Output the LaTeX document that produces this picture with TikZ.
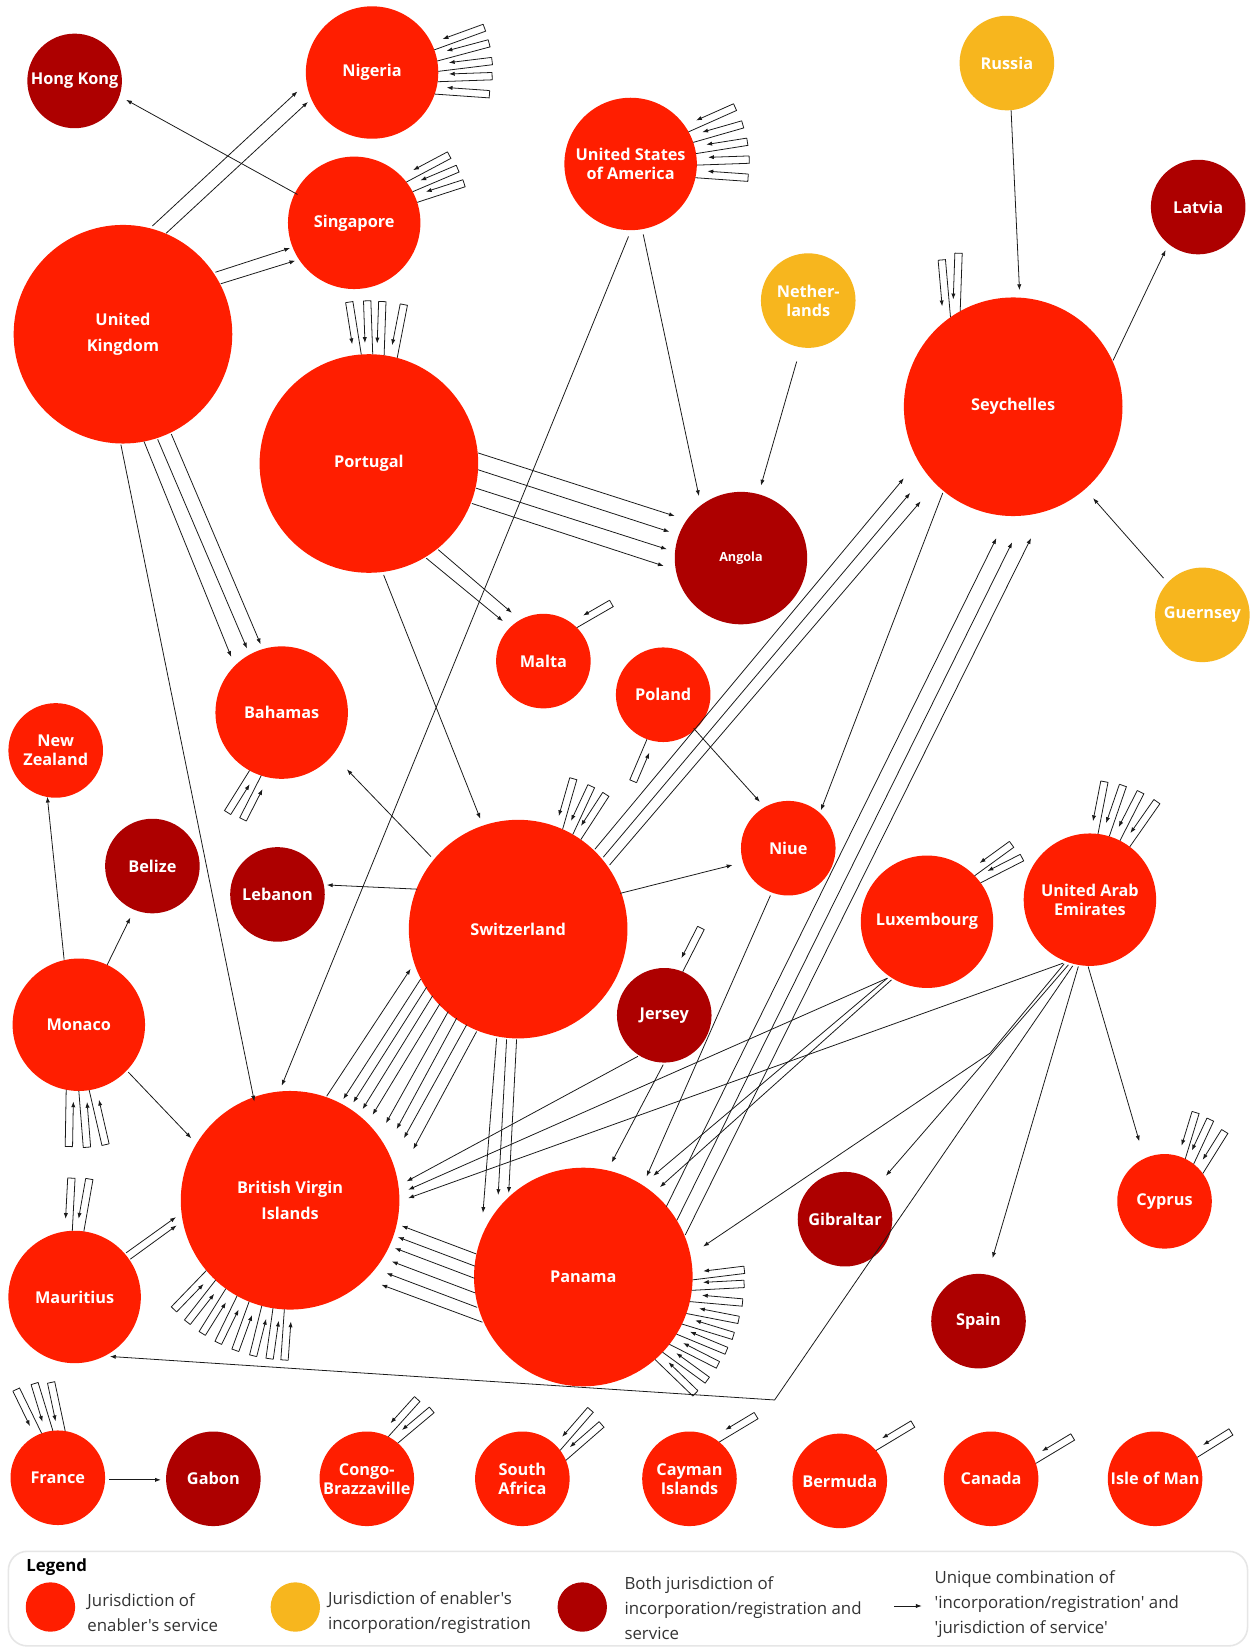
\documentclass[tikz,border=0pt]{standalone}
\usepackage{fontspec}
\setmainfont{Open Sans}
\newfontfamily\plainf{Open Sans}
\usetikzlibrary{arrows.meta,calc}
\definecolor{cred}{HTML}{FF1E00}
\definecolor{cdark}{HTML}{AD0000}
\definecolor{cyel}{HTML}{F7B61E}
\definecolor{lk}{HTML}{1A1A1A}
\definecolor{legt}{HTML}{333333}
\definecolor{legb}{HTML}{E6E6E6}
% self loop: node, radius, attach angle, direction, length
\newcommand\slp[5]{%
  \pgfmathsetmacro\arlen{#5-11}%
  \draw[lpl] ($(#1)+(#3:#2)$) -- ++(#4:#5) -- ++(#4-90:7) coordinate (lpe);
  \draw[arr] (lpe) -- ++(#4+180:\arlen);
}
% edge: node, offset, node, offset
\newcommand\edg[4]{\draw[arr] ($(#1)+(#2)$) -- ($(#3)+(#4)$);}
\begin{document}
\begin{tikzpicture}[x=1pt,y=-1pt,
  base/.style={circle,inner sep=0pt,text=white,align=center,font=\fontsize{15.5}{18}\selectfont\bfseries},
  bigc/.style={base,minimum size=208pt},
  midc/.style={base,minimum size=126pt},
  smlc/.style={base,minimum size=90pt},
  srv/.style={fill=cred}, inc/.style={fill=cyel}, both/.style={fill=cdark},
  arr/.style={draw=lk,line width=0.75pt,-{Latex[length=5.5pt,width=4pt]}},
  lpl/.style={draw=lk,line width=0.75pt,line join=miter},
  legtxt/.style={anchor=west,align=left,text=legt,font=\plainf\fontsize{16}{24}\selectfont,inner sep=0pt}
]
\fill[white] (0,0) rectangle (1192,1568);
\useasboundingbox (0,0) rectangle (1192,1568);

% ---------- nodes ----------
\node[smlc,both] (hk) at (71,77) {Hong Kong};
\node[midc,srv] (nig) at (354,69) {Nigeria};
\node[midc,srv] (sing) at (337,212) {Singapore};
\node[bigc,srv] (uk) at (117,318) {United\\[6pt]Kingdom};
\node[midc,srv] (usa) at (600,156) {United States\\of America};
\node[smlc,inc] (rus) at (958,60) {Russia};
\node[smlc,both] (lat) at (1140,197) {Latvia};
\node[smlc,inc] (neth) at (769,286) {Nether-\\lands};
\node[bigc,srv] (sey) at (964,387) {Seychelles};
\node[bigc,srv] (por) at (351,441) {Portugal};
\node[midc,both,font=\fontsize{12}{14}\selectfont\bfseries] (ang) at (705,531) {Angola};
\node[smlc,inc] (gue) at (1144,585) {Guernsey};
\node[smlc,srv] (mal) at (517,629) {Malta};
\node[smlc,srv] (pol) at (631,661) {Poland};
\node[midc,srv] (bah) at (268,678) {Bahamas};
\node[smlc,srv] (nz) at (53,714) {New\\Zealand};
\node[smlc,srv] (niue) at (750,807) {Niue};
\node[smlc,both] (bel) at (145,824) {Belize};
\node[smlc,both] (leb) at (264,851) {Lebanon};
\node[bigc,srv] (swi) at (493,884) {Switzerland};
\node[midc,srv] (lux) at (882,877) {Luxembourg};
\node[midc,srv] (uae) at (1037,856) {United Arab\\Emirates};
\node[smlc,both] (jer) at (632,966) {Jersey};
\node[midc,srv] (mon) at (75,975) {Monaco};
\node[bigc,srv] (bvi) at (276,1142) {British Virgin\\[6pt]Islands};
\node[bigc,srv] (pan) at (555,1215) {Panama};
\node[smlc,both] (gib) at (804,1160) {Gibraltar};
\node[smlc,srv] (cyp) at (1108,1143) {Cyprus};
\node[smlc,both] (spa) at (931,1257) {Spain};
\node[midc,srv] (mau) at (71,1234) {Mauritius};
\node[smlc,srv] (fra) at (55,1406) {France};
\node[smlc,both] (gab) at (203,1407) {Gabon};
\node[smlc,srv] (con) at (349,1407) {Congo-\\Brazzaville};
\node[smlc,srv] (saf) at (497,1407) {South\\Africa};
\node[smlc,srv] (cay) at (656,1407) {Cayman\\Islands};
\node[smlc,srv] (ber) at (799,1409) {Bermuda};
\node[smlc,srv] (can) at (943,1407) {Canada};
\node[smlc,srv] (iom) at (1099,1407) {Isle of Man};

\coordinate (bendP) at (942,1002);
\coordinate (bendM) at (737,1332);

% ---------- edges ----------
\edg{sing}{-54,-27}{hk}{49,18}
\edg{uk}{28,-103}{nig}{-71,18}
\edg{uk}{41,-96}{nig}{-61,28}
\edg{uk}{88,-59}{sing}{-61,24}
\edg{uk}{93,-48}{sing}{-56,36}
\edg{uk}{20,102}{bah}{-48,-53}
\edg{uk}{33,100}{bah}{-33,-61}
\edg{uk}{46,95}{bah}{-20,-65}
\edg{uk}{-2,105}{bvi}{-34,-94}
\edg{usa}{12,67}{ang}{-40,-59}
\edg{usa}{-2,69}{bvi}{-8,-109}
\edg{neth}{-11,58}{ang}{19,-69}
\edg{rus}{4,45}{sey}{6,-111}
\edg{sey}{95,-44}{lat}{-31,41}
\edg{gue}{-37,-35}{sey}{76,87}
\edg{por}{104,-10}{ang}{-63,-40}
\edg{por}{104,6}{ang}{-68,-25}
\edg{por}{102,23.5}{ang}{-70.5,-8.4}
\edg{por}{98,38}{ang}{-73.5,7.5}
\edg{por}{66,82}{mal}{-30,-46}
\edg{por}{54.5,90}{mal}{-38.5,-38}
\edg{por}{14,106}{swi}{-36,-105}
\edg{sey}{-67,82}{niue}{31,-36}
\edg{swi}{73,-76}{sey}{-104,68}
\edg{swi}{81,-68.5}{sey}{-98,82}
\edg{swi}{87,-61}{sey}{-88,90}
\edg{pan}{79,-67}{sey}{-16,125}
\edg{pan}{89,-54}{sey}{-1,129}
\edg{pan}{97,-40}{sey}{17,125}
\edg{pol}{29,32}{niue}{-27,-44}
\edg{swi}{-83,-69}{bah}{62,54}
\edg{swi}{-96,-38}{leb}{47,-9}
\edg{swi}{97,-34}{niue}{-53,16}
\edg{mon}{-14,-62}{nz}{-8,44}
\edg{mon}{27,-57}{bel}{-21,49}
\edg{mon}{47,45}{bvi}{-94,-59}
\edg{mau}{49,-42}{bvi}{-108.6,16}
\edg{mau}{53,-36}{bvi}{-108,24}
\edg{bvi}{34.8,-99}{swi}{-102.3,37.8}
\edg{swi}{-92.8,47.6}{bvi}{50.6,-96.2}
\edg{swi}{-87.1,55.2}{bvi}{60.1,-93}
\edg{swi}{-81.4,63.5}{bvi}{69,-86.7}
\edg{swi}{-74.4,71}{bvi}{78.5,-81.3}
\edg{swi}{-66.5,78.4}{bvi}{91.2,-73.4}
\edg{swi}{-58.5,84.7}{bvi}{101.4,-67.7}
\edg{swi}{-49,91}{bvi}{108.3,-59.1}
\edg{swi}{-39.5,97.4}{bvi}{117.2,-48.6}
\edg{swi}{-20.5,104}{pan}{-95.5,-61}
\edg{swi}{-11,105}{pan}{-81,-78}
\edg{swi}{-1.5,105}{pan}{-71,-80}
\edg{jer}{-25,39}{bvi}{110.9,-18}
\edg{jer}{-1,47}{pan}{27,-109}
\edg{lux}{-37.7,53.7}{bvi}{112.4,-10}
\edg{lux}{-37.7,53.7}{pan}{66.5,-96.3}
\edg{lux}{-33.8,55.3}{pan}{72.9,-85.5}
\edg{niue}{-17,45}{pan}{60.2,-95.6}
\edg{uae}{-25.5,60.4}{bvi}{112.4,-2}
\draw[arr] ($(uae)+(-24.5,61)$) -- (bendP) -- ($(pan)+(114,-29)$);
\edg{uae}{-20.5,62}{gib}{38.9,-41.3}
\draw[arr] ($(uae)+(-16.4,63)$) -- (bendM) -- ($(mau)+(33.6,56.6)$);
\edg{uae}{-11,63.5}{spa}{13.3,-60}
\edg{uae}{-1.7,63.6}{cyp}{-24,-57}
\edg{pan}{-102,-22}{bvi}{106.2,24.3}
\edg{pan}{-103,-10.3}{bvi}{102.6,35}
\edg{pan}{-103.5,1.2}{bvi}{99.7,45.5}
\edg{pan}{-103,15.1}{bvi}{96.8,58.2}
\edg{pan}{-101,28.9}{bvi}{91.7,69.3}
\edg{pan}{-96,43}{bvi}{86.9,80.4}
\edg{fra}{49,2}{gab}{-50,1}

% ---------- self loops ----------
\slp{nig}{63}{-20}{-20}{52}
\slp{nig}{63}{-10}{-15}{52}
\slp{nig}{63}{-1}{-7}{52}
\slp{nig}{63}{8}{-2}{52}
\slp{nig}{63}{19}{4}{52}
\slp{usa}{63}{-29}{-24}{50}
\slp{usa}{63}{-19}{-16}{50}
\slp{usa}{63}{-9}{-9}{50}
\slp{usa}{63}{1}{-2}{50}
\slp{usa}{63}{12}{4}{50}
\slp{sing}{63}{-38}{-28}{48}
\slp{sing}{63}{-28}{-23}{48}
\slp{sing}{63}{-18}{-18}{48}
\slp{por}{104}{-94}{-99}{51}
\slp{por}{104}{-88}{-92}{51}
\slp{por}{104}{-82}{-88}{51}
\slp{por}{104}{-75}{-79}{51}
\slp{sey}{104}{-125}{-95}{55}
\slp{sey}{104}{-119}{-88}{55}
\slp{mal}{45}{-45}{-30}{40}
\slp{pol}{45}{110}{113}{42}
\slp{bah}{63}{119}{122}{45}
\slp{bah}{63}{108}{117}{45}
\slp{swi}{104}{-66}{-74}{49}
\slp{swi}{104}{-60}{-65}{49}
\slp{swi}{104}{-55}{-57}{49}
\slp{lux}{63}{-44}{-36}{46}
\slp{lux}{63}{-36}{-27}{46}
\slp{uae}{63}{-83}{-79}{50}
\slp{uae}{63}{-73}{-71}{50}
\slp{uae}{63}{-63}{-63}{50}
\slp{uae}{63}{-53}{-55}{50}
\slp{jer}{45}{-67}{-63}{45}
\slp{mon}{63}{101}{91}{54}
\slp{mon}{63}{90}{85.5}{54}
\slp{mon}{63}{81}{77}{54}
\slp{mau}{63}{-92}{-87}{50}
\slp{mau}{63}{-82}{-80}{50}
\slp{cyp}{45}{-64}{-73}{45}
\slp{cyp}{45}{-52}{-65}{45}
\slp{cyp}{45}{-36}{-58}{45}
\slp{bvi}{104}{140}{134}{48}
\slp{bvi}{104}{133}{128}{48}
\slp{bvi}{104}{126}{122}{48}
\slp{bvi}{104}{119}{116}{48}
\slp{bvi}{104}{112}{110}{48}
\slp{bvi}{104}{105}{104}{48}
\slp{bvi}{104}{99}{98}{48}
\slp{bvi}{104}{93}{94}{48}
\slp{pan}{104}{1.5}{-7}{50}
\slp{pan}{104}{7}{-3}{50}
\slp{pan}{104}{13}{5}{50}
\slp{pan}{104}{19.5}{11}{50}
\slp{pan}{104}{25.5}{17}{50}
\slp{pan}{104}{31.5}{22.5}{50}
\slp{pan}{104}{38}{27}{50}
\slp{pan}{104}{43.5}{36}{50}
\slp{pan}{104}{49}{44}{50}
\slp{fra}{45}{-110}{-116}{48}
\slp{fra}{45}{-96}{-107}{48}
\slp{fra}{45}{-81}{-102}{48}
\slp{con}{45}{-63}{-48}{45}
\slp{con}{45}{-49}{-40}{45}
\slp{saf}{45}{-37}{-49}{48}
\slp{saf}{45}{-23}{-41}{48}
\slp{cay}{45}{-51}{-31}{43}
\slp{ber}{45}{-40}{-31}{43}
\slp{can}{45}{-19}{-31}{43}
\slp{iom}{45}{-27}{-32}{40}

% ---------- legend ----------
\node[draw=legb,line width=1.5pt,rounded corners=18pt,minimum width=1179pt,minimum height=90pt,inner sep=0pt] (legbox) at (597.5,1521) {};
\node[anchor=west,inner sep=0pt,font=\fontsize{16}{19}\selectfont\bfseries] (legtitle) at (25,1491) {Legend};
\node[circle,fill=cred,minimum size=47pt,inner sep=0pt] (lg1) at (48,1529) {};
\node[legtxt] (lt1) at (83,1534) {Jurisdiction of\\enabler's service};
\node[circle,fill=cyel,minimum size=47pt,inner sep=0pt] (lg2) at (281,1529) {};
\node[legtxt] (lt2) at (312,1534) {Jurisdiction of enabler's\\incorporation/registration};
\node[circle,fill=cdark,minimum size=47pt,inner sep=0pt] (lg3) at (554,1529) {};
\node[legtxt] (lt3) at (594,1530) {Both jurisdiction of\\incorporation/registration and\\service};
\coordinate (la1) at (851,1528);
\coordinate (la2) at (877,1528);
\draw[arr] (la1) -- (la2);
\node[legtxt] (lt4) at (889,1526) {Unique combination of\\'incorporation/registration' and\\'jurisdiction of service'};
\end{tikzpicture}
\end{document}
